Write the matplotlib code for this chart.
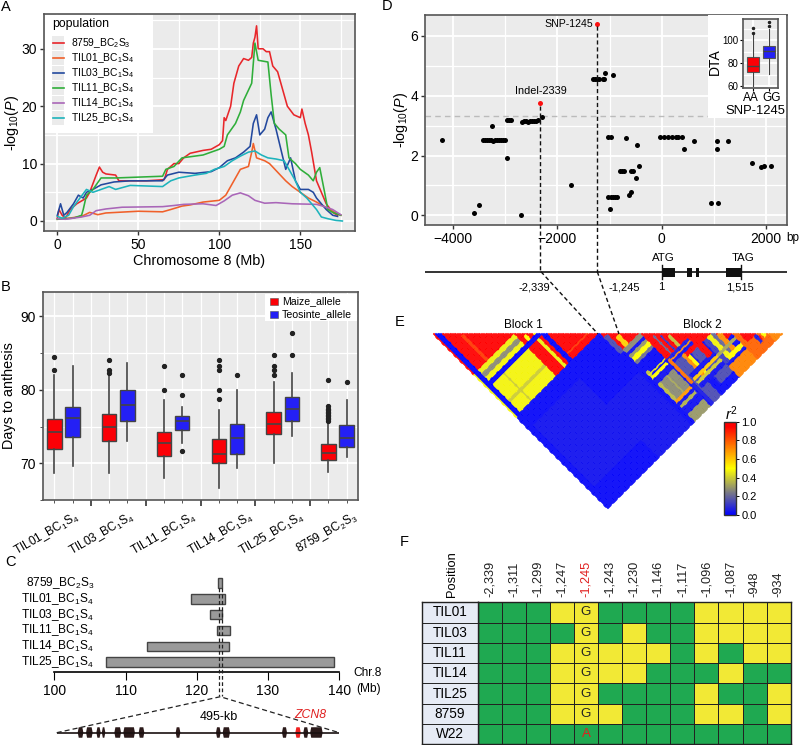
import numpy as np
import matplotlib
matplotlib.use('Agg')
import matplotlib.pyplot as plt
from matplotlib.colors import LinearSegmentedColormap, ListedColormap, Normalize
from matplotlib.cm import ScalarMappable
from matplotlib.patches import Rectangle
from matplotlib.transforms import Affine2D

plt.rcParams['font.family'] = ['Liberation Sans', 'DejaVu Sans']
plt.rcParams['mathtext.default'] = 'regular'
plt.rcParams['mathtext.fontset'] = 'custom'
plt.rcParams['mathtext.rm'] = 'Liberation Sans'
plt.rcParams['mathtext.it'] = 'Liberation Sans:italic'

# ---------- Panel A data ----------
red_x = [0,1,3,5,8,12,15,18,20,22,24,26,28,30,36,38,45,55,66,68,72,75,78,82,90,95,100,102,103,104,107,109,112,115,118,120,121,122,123,124,127,129,131,133,136,138,140,142,146,150,151,153,155,157,160,163,166,170,173]
red_y = [.5,2,1,.5,2,3,3.5,4,5,6.5,8,9.4,8.5,8.2,8,7,7,7,7.2,9,10,10,11,11.8,12.3,12.5,13.3,14,18,17.5,20,24,27,28.3,28,28.5,31,32,34,30,30,29.5,29.5,27,26,24,22,20,18.5,18,19.5,17,15,12,7,5,3,1.5,1]
orange_x = [0,5,10,15,20,25,30,50,65,70,77,82,90,100,104,107,110,113,118,120,121,123,128,131,136,141,145,150,155,160,165,170,175]
orange_y = [.3,.4,.6,.8,1.5,1.1,1.4,1.7,1.6,2,2.6,2.8,3.3,3.6,4.5,6,7.5,9,9.5,12,13.5,11,10.5,10,8.5,7,6,5,4,3.3,2.5,1.7,1]
blue_x = [0,2,4,6,10,13,16,18,22,27,35,45,65,68,75,85,95,100,105,110,115,119,121,123,125,128,130,132,135,138,141,144,147,150,155,158,160,163,166,170,173]
blue_y = [1,3,1,1.5,3,4.5,4,5,5.5,6.3,6.8,7,7,8,8.5,8.3,8.6,9.3,10.5,11,12,13,17,18.5,15,16,18,19,16,12.5,9,11,7,5.5,5.5,5,4,3,2,1,.8]
green_x = [0,10,15,16,18,22,27,36,65,67,72,77,90,100,103,105,110,113,115,120,122,124,130,132,134,137,141,143,147,150,155,158,160,162,165,167,170,175]
green_y = [.3,.5,1,2,4.5,5.5,7.5,7.5,7.8,9,9.5,11,11.5,12.5,13,15,17,19,21,24,31,28,27.7,22,17,16,15,11,10,9,8,7,8.5,9.3,5,2,1.5,1]
purple_x = [0,5,10,15,20,24,30,40,65,72,78,90,98,103,108,113,118,122,128,135,145,160,165,170,175]
purple_y = [.4,.3,.5,.7,1,1.8,2.1,2.4,2.5,2.7,2.9,3,2.7,3.5,4.5,4.9,4.4,3.6,3.1,3.2,3,2.9,2.5,2,1.1]
cyan_x = [0,3,7,10,14,18,22,27,32,36,45,65,70,75,85,92,97,103,108,113,118,122,126,130,135,140,143,147,150,154,157,160,163,167,172,176]
cyan_y = [.8,.5,1,2.5,4,5.5,5,5.5,6,5.5,6.2,6,7,7.5,8,8.3,9,9.5,10.5,11.3,12,12.2,11.5,11,10.8,10.5,9,7,5,4,3,2,.7,.4,.1,0]
pop_labels = ['8759_BC$_2$S$_3$','TIL01_BC$_1$S$_4$','TIL03_BC$_1$S$_4$','TIL11_BC$_1$S$_4$','TIL14_BC$_1$S$_4$','TIL25_BC$_1$S$_4$']
pop_colors = ['#e8262a','#f0602a','#23499e','#2fae3a','#a966b8','#1db3bc']

# ---------- Panel B data ----------
b_labels = ['TIL01_BC$_1$S$_4$','TIL03_BC$_1$S$_4$','TIL11_BC$_1$S$_4$','TIL14_BC$_1$S$_4$','TIL25_BC$_1$S$_4$','8759_BC$_2$S$_3$']
maize_box = [(68.7,72,74.2,76,82),(68.7,73,75,76.7,82),(68,71,72.7,74.3,78.6),(66.6,70,71.3,73.3,77.3),(70,74,75.4,77,81),(68.8,70.5,71.4,72.6,75.6)]
maize_out = [[84.4,82.7],[84,82.7,82.3],[83.3,80],[84,83.3,82.7,80,78.7],[84.7,83.3,82.7,82],[81.3,77.8,77.4,77.2,77,76.8,76.6,76.4,76.2,76,75.8]]
teo_box = [(69.6,73.6,76.1,77.7,83.3),(73,75.8,78,80,83.6),(72.7,74.5,75.7,76.4,77.6),(69.3,71.3,73.4,75.4,80),(73.7,75.8,77.4,79,82.3),(70.8,72.2,73.4,75.2,78.6)]
teo_out = [[],[],[82,79.3,71.7],[82],[84.7,87.8],[81]]

# ---------- Panel C data ----------
c_labels = ['8759_BC$_2$S$_3$','TIL01_BC$_1$S$_4$','TIL03_BC$_1$S$_4$','TIL11_BC$_1$S$_4$','TIL14_BC$_1$S$_4$','TIL25_BC$_1$S$_4$']
c_start = [123.0,119.2,121.85,122.9,113.0,107.3]
c_end = [123.6,123.95,123.5,124.7,124.5,139.2]
gene_start = [36.8,51.4,69.5,79,101,116.7,143.6,208.4,279,290.8,394.6,418,432,444]
gene_end = [46.7,63,77,85.2,112.7,137,153.5,216.6,287.2,303.5,403.4,427.4,440.6,465.8]
zcn8_index = 11

# ---------- Panel D data ----------
d_x = [-4213,-3593,-3510,-3254,-3420,-3382,-3344,-3305,-3267,-3229,-3190,-3152,-3114,-3075,-3037,-2999,-2967,-2973,-2935,-2884,-2705,
       -2685,-2647,-2609,-2570,-2532,-2494,-2455,-2417,-2379,-2289,-1733,-1311,-1272,-1234,-1196,-1132,-1106,-1087,-940,-1023,-978,
       -1023,-978,-940,-902,-863,-997,-684,-467,-441,-799,-761,-722,-588,-543,-499,-620,-582,
       -32,45,121,192,268,307,396,428,627,1055,1061,1266,953,1080,1733,1905,1969,2104]
d_y = [2.52,.09,.33,2.97,2.52,2.52,2.52,2.52,2.52,2.5,2.52,2.52,2.52,2.52,2.52,2.52,1.93,3.18,3.18,3.18,0,
       3.13,3.17,3.17,3.13,3.17,3.17,3.17,3.17,3.19,3.29,1.03,4.57,4.57,4.57,4.57,4.57,4.57,4.76,4.69,2.62,2.62,
       .6,.6,.6,.6,.6,.2,2.59,2.35,1.66,1.49,1.49,1.49,1.49,1.49,1.26,.69,.77,
       2.61,2.61,2.61,2.61,2.61,2.61,2.62,2.22,2.5,2.5,2.22,2.5,.42,.42,1.75,1.6,1.64,1.64]
lead_x = [-2339,-1245]
lead_y = [3.74,6.41]
lead_labels = ['Indel-2339','SNP-1245']
threshold = 3.32
inset_box = [(60,72.8,77.4,85.8,104.6),(70.7,84.6,91,94.8,109.5)]
inset_out = [[106.5,110.5],[112,116]]
inset_groups = ['AA','GG']
exon_start = [0,480,659,1234]
exon_end = [255,582,722,1515]

# ---------- Panel E data: painted patches of the LD matrix (i0,i1,j0,j1,r2) ----------
N_markers = 146
ld_patches = [
 (.03,.30,.55,.90,.035),(.30,.48,.70,1.0,.035),
 # block 1
 (0,.012,0,.235,1),(0,.012,.235,.48,.48),(.012,.03,0,.48,0),
 (.03,.235,.03,.235,1),(.08,.09,.09,.235,.85),
 (.03,.235,.235,.26,.47),(.03,.235,.26,.275,.27),(.03,.235,.275,.30,.48),(.03,.24,.30,.32,0),
 (.03,.24,.32,.478,.48),(.09,.10,.32,.478,.40),(.03,.24,.41,.42,.40),
 (.235,.31,.235,.31,1),(.255,.27,.27,.31,.5),(.29,.30,.29,.31,.5),(.235,.31,.30,.315,0),
 (.235,.478,.32,.478,1),(.285,.30,.32,.478,.47),(.315,.335,.32,.478,0),(.335,.478,.44,.45,.85),
 # block 2
 (.485,.60,.485,.60,1),(.52,.54,.54,.60,.58),(.485,.50,.50,.60,.15),
 (.50,.60,.595,.61,.27),(.50,.60,.61,.625,.02),(.50,.62,.625,.64,.3),(.50,.62,.64,.66,.5),(.50,.62,.66,.675,.22),
 (.60,.86,.60,.86,1),(.625,.635,.64,.75,.2),(.645,.655,.66,.75,.1),(.665,.68,.68,.75,.38),
 (.60,.72,.74,.755,.05),(.60,.72,.755,.765,.7),(.60,.72,.765,.78,.03),
 (.50,.52,.72,.75,.38),(.50,.60,.735,.745,.45),(.50,.60,.75,.765,.5),(.50,.60,.765,.79,.03),
 (.506,.59,.79,.886,.27),(.50,.52,.79,.89,.37),(.55,.56,.79,.886,.33),(.50,.59,.886,.90,.68),
 (.50,.59,.90,.915,.03),(.50,.59,.915,.925,.35),(.50,.59,.925,.96,.03),(.50,.59,.96,1.0,.3),
 (.59,.60,.75,1.0,.03),(.60,.615,.75,.89,.75),(.60,.615,.89,1.0,.05),(.615,.655,.78,1.0,.15),
 (.655,.665,.78,.92,.7),(.665,.68,.80,.91,.5),(.68,.69,.80,.97,.05),
 (.69,.76,.80,.97,.15),(.62,.76,.855,.87,.03),(.62,.76,.875,.89,.6),(.62,.76,.895,.905,.4),(.62,.76,.91,.925,.03),
 (.72,.86,.72,.86,1),(.75,.76,.80,.86,.03),
 (.76,.78,.80,.97,.12),(.78,.80,.80,.97,.48),(.80,.815,.80,.97,.2),(.815,.83,.82,1.0,.7),
 (.76,.90,.87,.89,.33),(.78,.90,.905,.93,.5),(.76,.90,.93,.945,.03),(.76,.90,.945,1.0,.72),
 (.86,1,.86,1,.78),(.88,.93,.88,.93,1),(.915,.925,.93,.97,.05),(.925,.935,.94,.96,1),(.94,.955,.94,.96,.5),
 (.96,1,.96,1,.72),
]

# ---------- Panel F data ----------
f_positions = ['-2,339','-1,311','-1,299','-1,247','-1,245','-1,243','-1,230','-1,146','-1,117','-1,096','-1,087','-948','-934']
f_lines = ['TIL01','TIL03','TIL11','TIL14','TIL25','8759','W22']
f_states = [[0,0,0,1,1,0,0,0,0,1,1,1,1],
            [0,0,0,0,1,0,1,0,0,1,1,1,1],
            [0,0,0,1,1,1,1,1,0,1,0,1,1],
            [0,0,0,1,1,1,1,0,0,0,1,0,0],
            [0,0,0,1,1,0,0,0,0,1,0,0,1],
            [0,0,0,1,1,1,0,0,0,1,1,0,1],
            [0,0,0,0,0,0,0,0,0,0,0,0,0]]
f_allele = ['G','G','G','G','G','G','A']

W, H = 800, 745
fig = plt.figure(figsize=(W/100, H/100), dpi=100)

def axpx(l, t, r, b, **kw):
    return fig.add_axes([l/W, 1-b/H, (r-l)/W, (b-t)/H], **kw)

def gg(ax):
    ax.set_facecolor('#EBEBEB')
    ax.set_axisbelow(True)
    ax.grid(True, which='major', color='white', lw=1.3)
    ax.grid(True, which='minor', color='white', lw=0.9)
    for s in ax.spines.values():
        s.set_color('#555555'); s.set_linewidth(1.2)

TS = 10
LS = 10.4

# A
axA = axpx(44, 14, 355, 231)
gg(axA)
series = [(red_x,red_y),(orange_x,orange_y),(blue_x,blue_y),(green_x,green_y),(purple_x,purple_y),(cyan_x,cyan_y)]
for (sx, sy), c in zip(series, pop_colors):
    axA.plot(sx, sy, color=c, lw=1.15)
axA.set_xlim((44-57.3)/1.62, (355-57.3)/1.62)
axA.set_ylim((221-231)/5.74, (221-14)/5.74)
axA.set_xticks([0,50,100,150]); axA.set_xticks([25,75,125,175], minor=True)
axA.set_yticks([0,10,20,30]); axA.set_yticks([5,15,25,35], minor=True)
axA.tick_params(which='minor', length=0)
axA.tick_params(which='major', labelsize=TS, length=3, width=1, color='#333333', pad=2)
axA.set_xlabel('Chromosome 8 (Mb)', fontsize=LS, labelpad=1.5)
axA.set_ylabel('-log$_{10}$($\\mathit{P}$)', fontsize=LS, labelpad=0)

# B
axB = axpx(43, 292, 358, 500)
gg(axB)
def stats(box, out):
    return [dict(whislo=b[0], q1=b[1], med=b[2], q3=b[3], whishi=b[4], fliers=o) for b, o in zip(box, out)]
groups = np.arange(6)
offs = .166
for data, out, off, col in [(maize_box, maize_out, -offs, '#fb0006'), (teo_box, teo_out, offs, '#2420f5')]:
    axB.bxp(stats(data, out), positions=groups+off, widths=.26, patch_artist=True, showcaps=False,
            boxprops=dict(facecolor=col, edgecolor='#444444', lw=1),
            medianprops=dict(color='#444444', lw=1.2),
            whiskerprops=dict(color='#444444', lw=1.2),
            flierprops=dict(marker='o', ms=2.8, mfc='#222222', mec='#222222'),
            manage_ticks=False)
axB.set_xlim(-.374, 5.374)
axB.set_ylim(70+(465.7-500)/7.45, 70+(465.7-292)/7.45)
axB.set_yticks([70,80,90]); axB.set_yticks([65,75,85], minor=True)
axB.set_xticks(np.arange(5)+.5)
axB.set_xticks(np.sort(np.r_[groups-offs, groups+offs]), minor=True)
axB.set_xticklabels([])
axB.grid(True, axis='x', which='both', color='white', lw=.9)
axB.tick_params(axis='y', which='minor', length=2, width=.7, color='#555555')
axB.tick_params(axis='y', which='major', labelsize=TS, length=3, width=1, color='#333333', pad=2)
axB.tick_params(axis='x', which='major', length=4, width=1.2, color='#333333')
axB.tick_params(axis='x', which='minor', length=2, width=.7, color='#555555')
axB.set_ylabel('Days to anthesis', fontsize=LS, labelpad=3)

# C
axC = axpx(54.3, 575, 339.3, 671.7)
rows = np.arange(6)
axC.barh(rows, np.array(c_end)-np.array(c_start), left=c_start, height=.6, color='#9a9a9a', edgecolor='#444444', lw=1)
axC.set_xlim(100, 140)
axC.set_ylim(5.6, -.5)
axC.patch.set_alpha(0)
for s in ['top','left','right']:
    axC.spines[s].set_visible(False)
axC.spines['bottom'].set_linewidth(1.2)
axC.set_yticks([])
axC.set_xticks([100,110,120,130,140])
axC.tick_params(axis='x', labelsize=TS, length=6, direction='out', pad=3)
for r, lab in zip(rows, c_labels):
    axC.text(105.6, r, lab, ha='right', va='center', fontsize=8.6)
# gene track
axG = axpx(56.7, 722, 339.3, 743)
axG.set_xlim(0, 495); axG.set_ylim(-1, 1); axG.axis('off')
axG.plot([0, 495], [0, 0], color='#1a1111', lw=1.2)
for k, (g0, g1) in enumerate(zip(gene_start, gene_end)):
    tip = 1.8
    gx = [g0, g0+tip, g1-tip, g1, g1-tip, g0+tip]
    gy = [0, .5, .5, 0, -.5, -.5]
    axG.fill(gx, gy, color='#f02020' if k == zcn8_index else '#2b1a1a', lw=0)

# D
axD = axpx(425.3, 14.7, 787, 225)
gg(axD)
axD.axhline(threshold, color='#bbbbbb', lw=1, ls=(0, (4, 3)))
axD.plot(d_x, d_y, 'o', color='black', ms=3.6, mew=0)
axD.plot(lead_x, lead_y, 'o', color='#fb1010', ms=3.6, mew=0, zorder=4)
axD.set_xlim((425.3-661.7)/.05217, (787-661.7)/.05217)
axD.set_ylim((215.3-225)/29.9, (215.3-14.7)/29.9)
axD.set_xticks([-4000,-2000,0,2000]); axD.set_xticks([-3000,-1000,1000], minor=True)
axD.set_xticklabels(['\u22124000','\u22122000','0','2000'])
axD.set_yticks([0,2,4,6]); axD.set_yticks([1,3,5], minor=True)
axD.tick_params(which='minor', length=0)
axD.tick_params(which='major', labelsize=TS, length=3, width=1, color='#333333', pad=2)
axD.set_ylabel('-log$_{10}$($\\mathit{P}$)', fontsize=LS, labelpad=0)

ov = axpx(0, 0, W, H)
ov.set_xlim(0, W); ov.set_ylim(H, 0); ov.axis('off'); ov.patch.set_alpha(0)

# inset
inset_bg = axpx(708, 15, 786, 118); inset_bg.set_xticks([]); inset_bg.set_yticks([])
for s in inset_bg.spines.values(): s.set_visible(False)
axI = axpx(743.3, 19, 778.3, 88)
gg(axI)
bp = axI.bxp(stats(inset_box, inset_out), positions=[0,1], widths=.72, patch_artist=True, showcaps=False,
        boxprops=dict(facecolor='#fb0006', edgecolor='#555555', lw=.8),
        medianprops=dict(color='#444444', lw=1), whiskerprops=dict(color='#444444', lw=.8),
        flierprops=dict(marker='o', ms=1.5, mfc='#222222', mec='#222222'), manage_ticks=False)
bp['boxes'][1].set_facecolor('#2420f5')
axI.set_xlim(-.606, 1.58)
axI.set_ylim(80-(88-63.3)/1.15, 80+(63.3-19)/1.15)
axI.set_yticks([60,80,100]); axI.set_xticks([0,1]); axI.set_xticklabels([])
axI.set_yticks([70,90,110], minor=True)
axI.tick_params(which='minor', length=0)
axI.tick_params(axis='y', labelsize=7, length=2, pad=1.5)
axI.tick_params(axis='x', length=2)
axI.set_ylabel('DTA', fontsize=10)
axI.yaxis.set_label_coords(-.61, .38)
axI.set_xlabel('SNP-1245', fontsize=9.4)
axI.xaxis.set_label_coords(.354, -.24)
for lab, xx in zip(inset_groups, (750.5, 771.5)):
    ov.text(xx, 98, lab, fontsize=8.6, ha='center', va='center')

# E
axE = axpx(432.7, 334, 782.7, 509.3)
N = N_markers
M = np.full((N, N), .012)
for i0, i1, j0, j1, v in ld_patches:
    M[int(i0*N):int(i1*N), int(j0*N):int(j1*N)] = v
I, J = np.meshgrid(np.arange(N+1), np.arange(N+1), indexing='ij')
Mm = np.ma.masked_where(np.tril(np.ones((N, N)), -1) > 0, M)
ld_cmap = LinearSegmentedColormap.from_list('ld', [(0,'#0000ff'),(.25,'#808080'),(.5,'#ffff00'),(.7,'#ff9000'),(.95,'#ff0000'),(1,'#ff0000')])
tr = Affine2D.from_values(.5, -.5, .5, .5, 0, 0)
axE.pcolormesh(I, J, Mm, cmap=ld_cmap, vmin=0, vmax=1, transform=tr+axE.transData, clip_on=False,
               antialiased=True, edgecolors='face', linewidth=.25)
axE.set_xlim(0, N); axE.set_ylim(N/2, 0); axE.axis('off')
axC_b = axpx(724.3, 421.7, 735.7, 515)
cb = fig.colorbar(ScalarMappable(Normalize(0, 1), ld_cmap), cax=axC_b, ticks=[0,.2,.4,.6,.8,1])
cb.ax.tick_params(labelsize=8, length=2, width=.7, pad=2)
cb.outline.set_linewidth(1); cb.outline.set_edgecolor('#333333')

# F
axF = axpx(477.7, 602.3, 790.7, 744.3)
fmap = ListedColormap(['#1fa951', '#f2e935'])
axF.pcolormesh(np.arange(14), np.arange(8), np.array(f_states), cmap=fmap, vmin=0, vmax=1, edgecolors='#222222', lw=.7)
axF.set_xlim(0, 13); axF.set_ylim(7, 0)
axF.set_xticks([]); axF.set_yticks([])
for s in axF.spines.values():
    s.set_color('#222222'); s.set_linewidth(1)
for r, a in enumerate(f_allele):
    axF.text(4.5, r+.5, a, ha='center', va='center', fontsize=9.6, color='#e02020' if a == 'A' else '#222222')
axL = axpx(421.7, 602.3, 477.7, 744.3)
axL.set_xlim(0, 1); axL.set_ylim(7, 0)
axL.set_facecolor('#e6ebf5'); axL.set_xticks([])
axL.set_yticks([])
axL.hlines(np.arange(1, 7), 0, 1, color='#222222', lw=.7)
for s in axL.spines.values():
    s.set_color('#222222'); s.set_linewidth(1)
for r, l in enumerate(f_lines):
    axL.text(.5, r+.5, l, ha='center', va='center', fontsize=9.8)
for c, p in enumerate(f_positions):
    ov.text(477.7+24.08*(c+.5), 596.7, p, rotation=90, ha='center', va='bottom', fontsize=9.2,
            color='#e02020' if p == '-1,245' else '#222222')
ov.text(451.7, 596.7, 'Position', rotation=90, ha='center', va='bottom', fontsize=9.3)

# overlay annotations
for t, x, y in [('A',1,7),('B',1,287),('C',5,562),('D',382,6),('E',395,322),('F',400,542)]:
    ov.text(x, y, t, fontsize=10.5, ha='left', va='center')
# A legend
ov.add_patch(Rectangle((45, 15), 108, 118, fc='white', ec='none'))
ov.text(52, 24, 'population', fontsize=8.8, va='center')
for k, (l, c) in enumerate(zip(pop_labels, pop_colors)):
    yy = 42.7 + 15*k
    ov.add_patch(Rectangle((52, yy-7.2), 12, 14.4, fc='#EBEBEB', ec='none'))
    ov.plot([53, 63.5], [yy, yy], color=c, lw=1.2)
    ov.text(71, yy, l, fontsize=7.4, va='center')
# B legend
ov.add_patch(Rectangle((265, 294), 92, 26.5, fc='white', ec='none'))
for k, (l, c) in enumerate(zip(['Maize_allele','Teosinte_allele'], ['#fb0006','#2420f5'])):
    yy = 301 + 13.3*k
    ov.add_patch(Rectangle((270, yy-3.5), 7.5, 7, fc=c, ec='#555555', lw=.4))
    ov.text(282, yy, l, fontsize=7.6, va='center')
# B category labels
for l, x in zip(b_labels, [74, 129, 191, 248, 299, 353]):
    ov.text(x, 509, l, fontsize=8.6, rotation=30, ha='right', va='top', rotation_mode='anchor')
# C labels and lines
for xx in (218.7, 222):
    ov.plot([xx, xx], [588, 696], color='#222222', lw=.9, ls=(0, (3, 2)))
ov.plot([56.7, 220.3, 339.3], [732.7, 696.7, 732.7], color='#222222', lw=.9, ls=(0, (4, 2.5)))
ov.text(353, 673, 'Chr.8', fontsize=8.6, va='center')
ov.text(356, 689, '(Mb)', fontsize=8.6, va='center')
ov.text(219, 716.7, '495-kb', fontsize=9, ha='center', va='center')
ov.text(310.7, 715, 'ZCN8', fontsize=8.8, ha='center', va='center', color='#e02020', style='italic')
# D annotations
ov.text(541, 91, lead_labels[0], fontsize=7.8, ha='center', va='center')
ov.text(380+568/3, 24, lead_labels[1], fontsize=7.6, ha='center', va='center')
ov.text(793, 238.5, 'bp', fontsize=8.5, ha='center', va='center')
ov.plot([540, 540], [106, 271.7], color='#111111', lw=1, ls=(0, (3, 2)))
ov.plot([597.3, 597.3], [26, 271.7], color='#111111', lw=1, ls=(0, (3, 2)))
ov.plot([541, 598], [271.7, 334], color='#111111', lw=1, ls=(0, (3, 2)))
ov.plot([597.3, 619], [271.7, 334], color='#111111', lw=1, ls=(0, (3, 2)))
# gene structure below D, on bp scale of panel D
axT = axpx(425.3, 260, 787, 284)
axT.set_xlim(axD.get_xlim()); axT.set_ylim(-1, 1); axT.axis('off')
axT.plot(axT.get_xlim(), [0, 0], color='#111111', lw=1.2)
axT.barh([0]*len(exon_start), np.array(exon_end)-np.array(exon_start), left=exon_start, height=.75, color='#111111')
axT.plot([0, 0], [-.55, .55], color='#111111', lw=1)
axT.plot([1515, 1515], [-.55, .55], color='#111111', lw=1)
for t, x, y, fs in [('ATG',380+850/3,258,8.2),('TAG',380+1088/3,258,8.2),('-2,339',380+462/3,287,8),
                    ('-1,245',380+733/3,287,8),('1',380+843/3,287,8),('1,515',380+1080/3,287,8)]:
    ov.text(x, y, t, fontsize=fs, ha='center', va='center')
# E annotations
ov.text(523, 325, 'Block 1', fontsize=8.5, ha='center', va='center')
ov.text(702.7, 325, 'Block 2', fontsize=8.5, ha='center', va='center')
ov.text(731, 414, '$\\mathit{r}^{2}$', fontsize=10.5, ha='center', va='center')
ov.set_zorder(10)
fig.savefig('out.png', dpi=100)
